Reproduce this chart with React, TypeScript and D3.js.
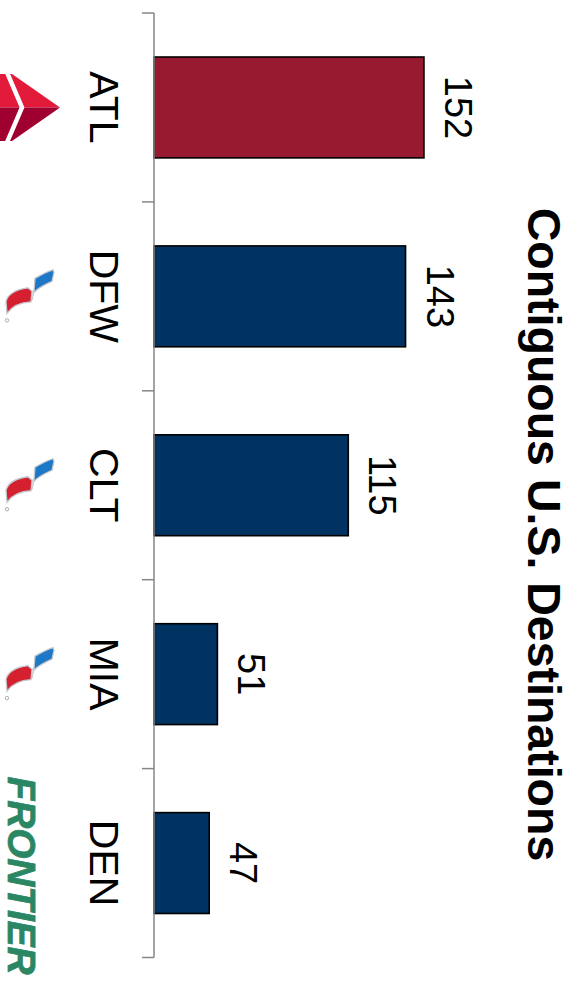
import React from "react";
import * as d3 from "d3";

const categories = ["ATL", "DFW", "CLT", "MIA", "DEN"];
const values = [152, 143, 115, 51, 47];
const carriers = ["Delta", "American", "American", "American", "Frontier"];
const barColors = ["#981A31", "#003361", "#003361", "#003361", "#003361"];
const title = "Contiguous U.S. Destinations";
const axisMin = 20;
const axisMax = 160;

const W = 580;
const H = 993;

function DeltaLogo({ cy }: { cy: number }) {
  return (
    <g transform={`translate(0,${cy})`}>
      <polygon points="0,-33.5 12,-33.5 60,0 0,0" fill="#E31B3B" />
      <polygon points="0,0 60,0 12,33.5 0,33.5" fill="#A0002F" />
      <polyline points="7,-35 22,0 7,35" fill="none" stroke="#fff" strokeWidth={4.5} />
    </g>
  );
}

function AmericanLogo({ cy }: { cy: number }) {
  return (
    <g transform={`translate(0,${cy})`}>
      <path
        d="M34,-6 L35,-18 C42,-22 48,-25 53,-26.5 L54,-24 L52,-15 C45,-12 39,-9 34,-4 Z"
        fill="#1E78C8"
        stroke="#c4c8ce"
        strokeWidth={1.3}
      />
      <path d="M31,-4 L34,-6 L34,-4 L32,4 Z" fill="#dfe2e6" stroke="#c4c8ce" strokeWidth={1} />
      <path
        d="M6,5 C8,-2 16,-7 28,-8.5 L32,-5 L31,5.5 C20,6 12,10 7,17 Z"
        fill="#D5202F"
        stroke="#c4c8ce"
        strokeWidth={1.3}
      />
      <circle cx={7} cy={24} r={1.7} fill="none" stroke="#999" strokeWidth={0.8} />
    </g>
  );
}

function FrontierLogo({ cy }: { cy: number }) {
  return (
    <text
      transform={`translate(8,${cy + 12.5}) rotate(90)`}
      textAnchor="middle"
      fontFamily="Liberation Sans, Arial, sans-serif"
      fontWeight="bold"
      fontStyle="italic"
      fontSize={38}
      textLength={198}
      lengthAdjust="spacingAndGlyphs"
      fill="#2B8763"
      stroke="#2B8763"
      strokeWidth={0.8}
    >
      FRONTIER
    </text>
  );
}

export default function App() {
  const y = d3
    .scaleBand<string>()
    .domain(categories)
    .range([13, 957.5])
    .paddingInner(0.466)
    .paddingOuter(0.233);
  const x = d3.scaleLinear().domain([axisMin, axisMax]).range([154, 440.3]);
  const bw = y.bandwidth();
  const step = y.step();
  const boundaries = categories.map((c) => (y(c) as number) - (step - bw) / 2);
  boundaries.push(boundaries[boundaries.length - 1] + step);
  const font = "Liberation Sans, Arial, Helvetica, sans-serif";

  return (
    <svg
      width={W}
      height={H}
      style={{ position: "absolute", left: 0, top: 0, background: "#fff" }}
    >
      {categories.map((c, i) => {
        const y0 = y(c) as number;
        return (
          <rect
            key={c}
            x={x(axisMin)}
            y={y0}
            width={x(values[i]) - x(axisMin)}
            height={bw}
            fill={barColors[i]}
            stroke="#000"
            strokeWidth={1.6}
          />
        );
      })}
      <line x1={154} x2={154} y1={boundaries[0]} y2={boundaries[boundaries.length - 1]} stroke="#868686" strokeWidth={1.5} />
      {boundaries.map((b, i) => (
        <line key={i} x1={142} x2={154} y1={b} y2={b} stroke="#868686" strokeWidth={1.5} />
      ))}
      {categories.map((c, i) => {
        const cy = (y(c) as number) + bw / 2;
        return (
          <text
            key={"v" + c}
            transform={`translate(${x(values[i]) + 21},${cy}) rotate(90)`}
            textAnchor="middle"
            fontFamily={font}
            fontSize={38}
            fill="#000"
          >
            {values[i]}
          </text>
        );
      })}
      {categories.map((c) => {
        const cy = (y(c) as number) + bw / 2;
        return (
          <text
            key={"c" + c}
            transform={`translate(90,${cy}) rotate(90)`}
            textAnchor="middle"
            fontFamily={font}
            fontSize={41}
            fill="#000"
          >
            {c}
          </text>
        );
      })}
      {categories.map((c, i) => {
        const cy = (y(c) as number) + bw / 2;
        if (carriers[i] === "Delta") return <DeltaLogo key={"l" + c} cy={cy} />;
        if (carriers[i] === "American") return <AmericanLogo key={"l" + c} cy={cy} />;
        return <FrontierLogo key={"l" + c} cy={cy} />;
      })}
      <text
        transform={`translate(528,534.5) rotate(90)`}
        textAnchor="middle"
        fontFamily={font}
        fontWeight="bold"
        fontSize={46.5}
        fill="#000"
      >
        {title}
      </text>
    </svg>
  );
}
